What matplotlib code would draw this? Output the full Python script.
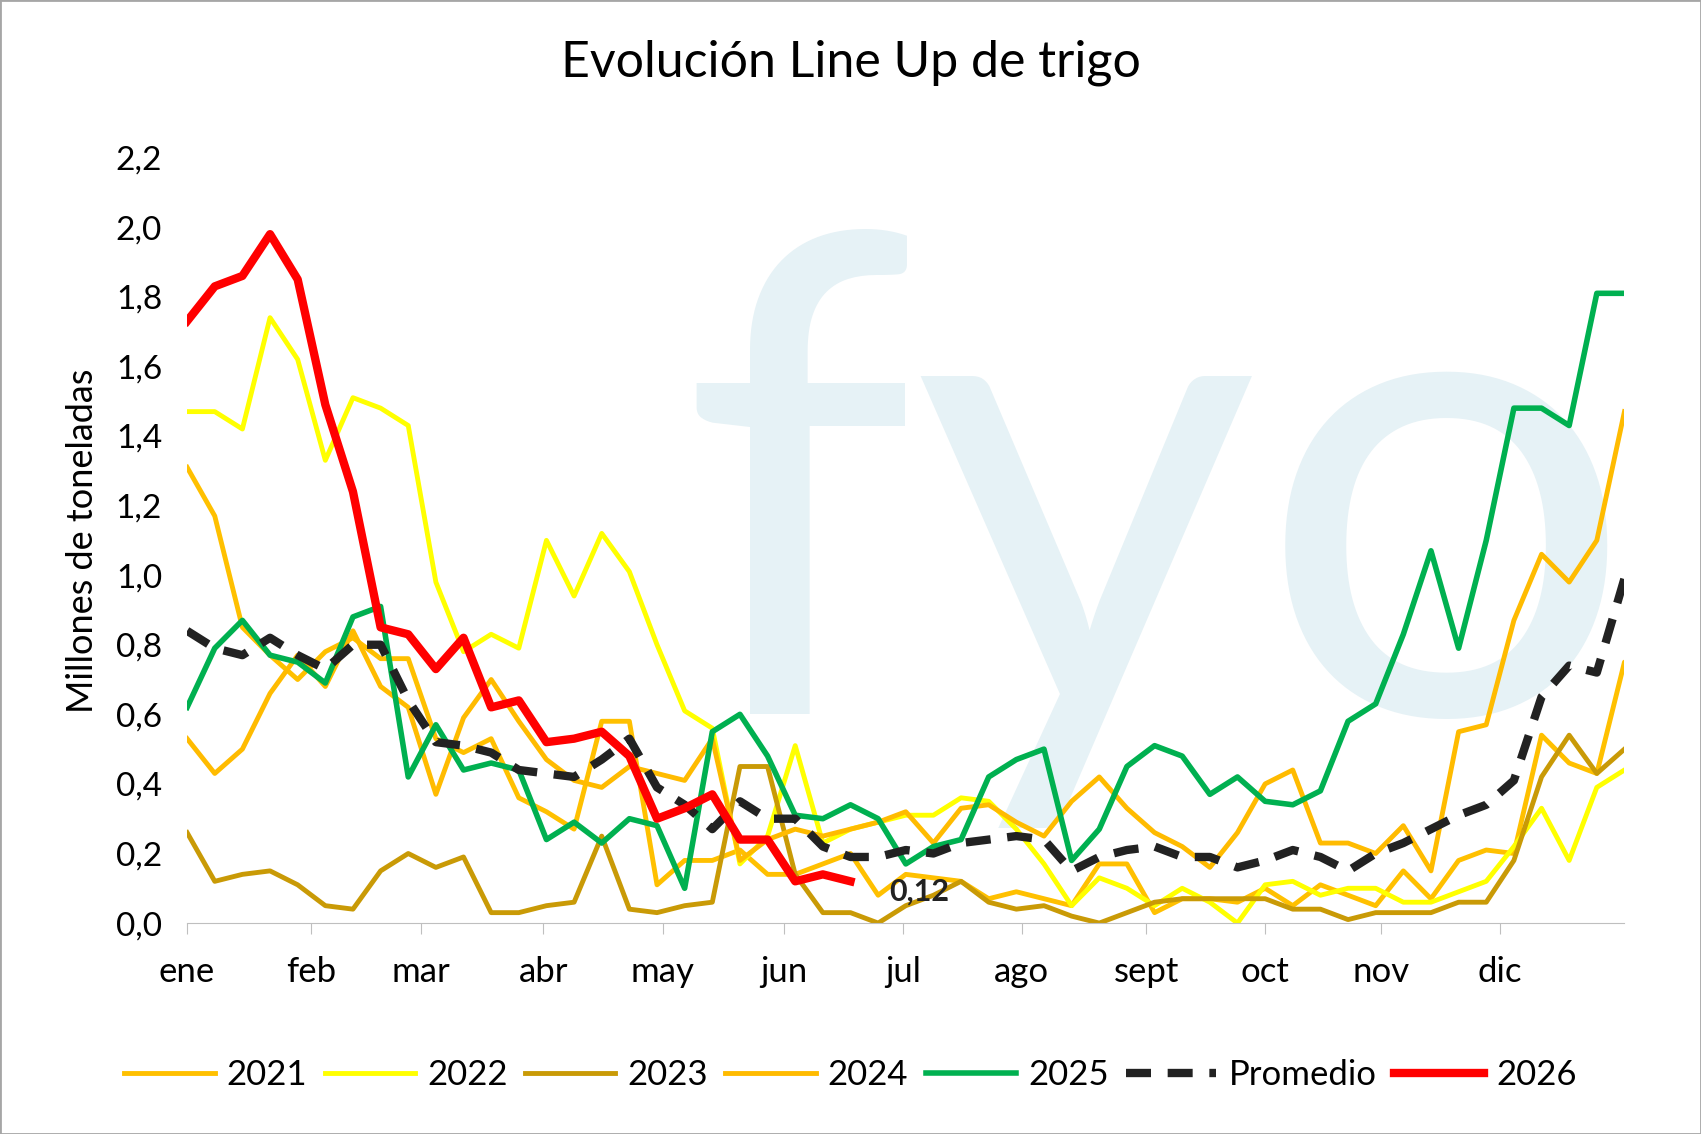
import numpy as np
import matplotlib.pyplot as plt
from matplotlib.ticker import FuncFormatter

meses = ["ene", "feb", "mar", "abr", "may", "jun", "jul", "ago", "sept", "oct", "nov", "dic"]
meses_pos = [0, 4.48, 8.45, 12.88, 17.2, 21.6, 25.9, 30.2, 34.7, 39.0, 43.2, 47.5]

v2021 = [1.31, 1.17, 0.85, 0.77, 0.70, 0.78, 0.82, 0.76, 0.76, 0.53, 0.49, 0.53, 0.36, 0.32, 0.27, 0.58,
         0.58, 0.11, 0.18, 0.18, 0.21, 0.14, 0.14, 0.17, 0.20, 0.08, 0.14, 0.13, 0.12, 0.07, 0.09, 0.07,
         0.05, 0.17, 0.17, 0.03, 0.07, 0.07, 0.06, 0.10, 0.05, 0.11, 0.08, 0.05, 0.15, 0.07, 0.18, 0.21,
         0.20, 0.54, 0.46, 0.43, 0.75, 0.72]
v2022 = [1.47, 1.47, 1.42, 1.74, 1.62, 1.33, 1.51, 1.48, 1.43, 0.98, 0.78, 0.83, 0.79, 1.10, 0.94, 1.12,
         1.01, 0.80, 0.61, 0.56, 0.17, 0.25, 0.51, 0.23, 0.27, 0.29, 0.31, 0.31, 0.36, 0.35, 0.27, 0.17,
         0.05, 0.13, 0.10, 0.05, 0.10, 0.06, 0.00, 0.11, 0.12, 0.08, 0.10, 0.10, 0.06, 0.06, 0.09, 0.12,
         0.22, 0.33, 0.18, 0.39, 0.44]
v2023 = [0.26, 0.12, 0.14, 0.15, 0.11, 0.05, 0.04, 0.15, 0.20, 0.16, 0.19, 0.03, 0.03, 0.05, 0.06, 0.25,
         0.04, 0.03, 0.05, 0.06, 0.45, 0.45, 0.14, 0.03, 0.03, 0.00, 0.05, 0.08, 0.12, 0.06, 0.04, 0.05,
         0.02, 0.00, 0.03, 0.06, 0.07, 0.07, 0.07, 0.07, 0.04, 0.04, 0.01, 0.03, 0.03, 0.03, 0.06, 0.06,
         0.18, 0.42, 0.54, 0.43, 0.50]
v2024 = [0.53, 0.43, 0.50, 0.66, 0.77, 0.68, 0.84, 0.68, 0.62, 0.37, 0.59, 0.70, 0.58, 0.47, 0.41, 0.39,
         0.45, 0.43, 0.41, 0.53, 0.18, 0.24, 0.27, 0.25, 0.27, 0.29, 0.32, 0.23, 0.33, 0.34, 0.29, 0.25,
         0.35, 0.42, 0.33, 0.26, 0.22, 0.16, 0.26, 0.40, 0.44, 0.23, 0.23, 0.20, 0.28, 0.15, 0.55, 0.57,
         0.87, 1.06, 0.98, 1.10, 1.47]
v2025 = [0.62, 0.79, 0.87, 0.77, 0.75, 0.69, 0.88, 0.91, 0.42, 0.57, 0.44, 0.46, 0.44, 0.24, 0.29, 0.23,
         0.30, 0.28, 0.10, 0.55, 0.60, 0.48, 0.31, 0.30, 0.34, 0.30, 0.17, 0.22, 0.24, 0.42, 0.47, 0.50,
         0.18, 0.27, 0.45, 0.51, 0.48, 0.37, 0.42, 0.35, 0.34, 0.38, 0.58, 0.63, 0.83, 1.07, 0.79, 1.10,
         1.48, 1.48, 1.43, 1.81, 1.81]
promedio = [0.84, 0.79, 0.77, 0.82, 0.77, 0.73, 0.80, 0.80, 0.64, 0.52, 0.51, 0.49, 0.44, 0.43, 0.42, 0.47,
            0.53, 0.39, 0.34, 0.27, 0.35, 0.30, 0.30, 0.22, 0.19, 0.19, 0.21, 0.20, 0.23, 0.24, 0.25, 0.24,
            0.15, 0.19, 0.21, 0.22, 0.19, 0.19, 0.16, 0.18, 0.21, 0.19, 0.15, 0.20, 0.23, 0.27, 0.31, 0.34,
            0.41, 0.65, 0.74, 0.72, 0.99]
v2026 = [1.73, 1.83, 1.86, 1.98, 1.85, 1.49, 1.24, 0.85, 0.83, 0.73, 0.82, 0.62, 0.64, 0.52, 0.53, 0.55,
         0.48, 0.30, 0.33, 0.37, 0.24, 0.24, 0.12, 0.14, 0.12]

plt.rcParams['font.family'] = ['Lato', 'DejaVu Sans']
fig = plt.figure(figsize=(17.01, 11.34), dpi=100)
ax = fig.add_axes([0.11, 0.186, 0.845, 0.675])
ax.set_zorder(2)
ax.set_facecolor('none')

# marca de agua, detras del grafico
fig.text(0.40, 0.37, "fyo", fontsize=480, color='#e6f2f6', ha='left', va='baseline', zorder=-5)

series = [
    ("2021", v2021, '#ffc000', 3.5, '-'),
    ("2022", v2022, '#ffff00', 3.5, '-'),
    ("2023", v2023, '#c99a06', 3.5, '-'),
    ("2024", v2024, '#ffbb00', 3.5, '-'),
    ("2025", v2025, '#00b050', 4, '-'),
    ("Promedio", promedio, '#222222', 6, (0, (3, 2))),
    ("2026", v2026, '#ff0000', 6, '-'),
]
for nombre, v, c, lw, ls in series:
    ax.plot(np.arange(len(v)), v, color=c, lw=lw, ls=ls, label=nombre)

ax.annotate("0,12", (len(v2026) - 1, v2026[-1]), xytext=(28, -14), textcoords='offset points',
            fontsize=22, fontweight='bold', color='#222222')

ax.set_xlim(0, 52)
ax.set_ylim(0, 2.2)
ax.set_yticks(np.arange(0, 2.21, 0.2))
ax.yaxis.set_major_formatter(FuncFormatter(lambda y, p: f"{y:.1f}".replace('.', ',')))
ax.set_xticks(meses_pos)
ax.set_xticklabels(meses)
ax.tick_params(axis='y', length=0, labelsize=24, pad=18)
ax.tick_params(axis='x', length=8, color='#bfbfbf', labelsize=25, pad=16)
for s in ['top', 'right', 'left']:
    ax.spines[s].set_visible(False)
ax.spines['bottom'].set_color('#bfbfbf')
ax.set_ylabel("Millones de toneladas", fontsize=26, labelpad=12)

fig.suptitle("Evolución Line Up de trigo", fontsize=36, y=0.965)
fig.legend(loc='lower center', ncol=7, frameon=False, fontsize=25, bbox_to_anchor=(0.5, 0.01),
           handlelength=2.6, columnspacing=0.5, handletextpad=0.35)
fig.patches.append(plt.Rectangle((0, 0), 1, 1, transform=fig.transFigure, fill=False,
                                 ec='#a6a6a6', lw=2))
fig.savefig("out.png", dpi=100)
